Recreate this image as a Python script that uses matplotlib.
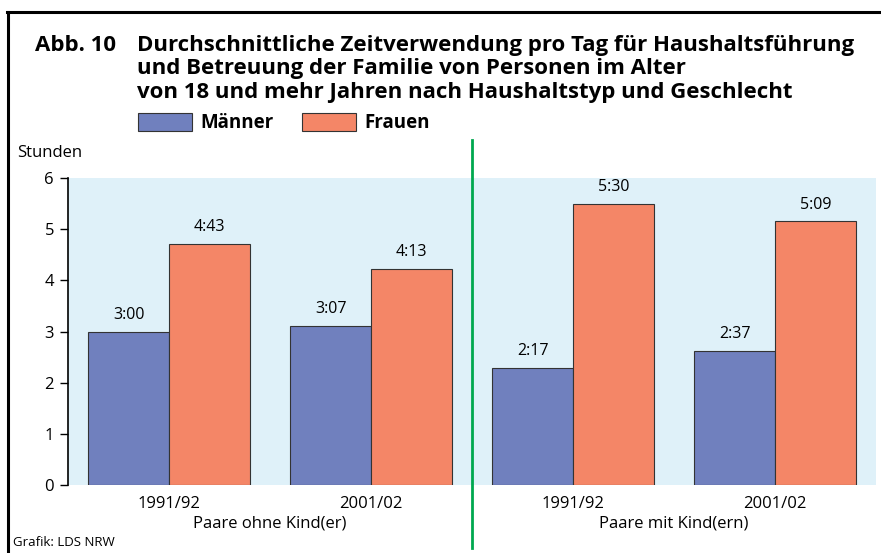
import matplotlib.pyplot as plt
from matplotlib.lines import Line2D
import numpy as np

plt.rcParams['font.family'] = ['Open Sans', 'DejaVu Sans']

# Zeitverwendung in Stunden (h:mm umgerechnet)
zeitraum = ['1991/92', '2001/02', '1991/92', '2001/02']
haushaltstyp = ['Paare ohne Kind(er)', 'Paare mit Kind(ern)']
serien = ['Männer', 'Frauen']
maenner = ['3:00', '3:07', '2:17', '2:37']
frauen = ['4:43', '4:13', '5:30', '5:09']

BLAU = '#7080be'
ORANGE = '#f48667'
HINTERGRUND = '#dff1f9'
GRUEN = '#00a84f'


def stunden(txt):
    h, m = txt.split(':')
    return int(h) + int(m) / 60.0


W, H = 881, 553
fig = plt.figure(figsize=(W / 100, H / 100), dpi=100)

# Achse in Pixelkoordinaten
x0, x1, y0, y1 = 68, 876, 178, 485
ax = fig.add_axes([x0 / W, 1 - y1 / H, (x1 - x0) / W, (y1 - y0) / H])
ax.set_facecolor(HINTERGRUND)

pos = np.array([1.25, 3.75, 6.25, 8.75])
breite = 1.0
werte_m = [stunden(t) for t in maenner]
werte_f = [stunden(t) for t in frauen]

b1 = ax.bar(pos - breite / 2, werte_m, breite, color=BLAU, edgecolor='#333333',
            linewidth=0.8, label=serien[0])
b2 = ax.bar(pos + breite / 2, werte_f, breite, color=ORANGE, edgecolor='#333333',
            linewidth=0.8, label=serien[1])

for rects, labels in ((b1, maenner), (b2, frauen)):
    for r, lab in zip(rects, labels):
        ax.text(r.get_x() + r.get_width() / 2, r.get_height() + 0.33, lab,
                ha='center', va='center', fontsize=11.5)

ax.set_xlim(0, 10)
ax.set_ylim(0, 6)
ax.set_yticks(range(0, 7))
ax.tick_params(axis='y', labelsize=12, length=6, width=1, pad=4)
ax.set_xticks(pos)
ax.set_xticklabels(zeitraum, fontsize=12)
ax.tick_params(axis='x', length=0, pad=8)
for s in ('top', 'right', 'bottom'):
    ax.spines[s].set_visible(False)
ax.spines['left'].set_linewidth(1.2)

# Trennlinie zwischen den Haushaltstypen
ax.plot([5, 5], [-1.23, 6.74], color=GRUEN, lw=2, clip_on=False)

for xc, txt in zip([2.5, 7.5], haushaltstyp):
    ax.text(xc, -0.75, txt, ha='center', va='center', fontsize=12)

fig.text(17 / W, 1 - 153 / H, 'Stunden', ha='left', va='center', fontsize=12)

# Titel
fig.text(35 / W, 1 - 35 / H, 'Abb. 10', ha='left', va='top',
         fontsize=16, fontweight='bold')
fig.text(137 / W, 1 - 35 / H,
         'Durchschnittliche Zeitverwendung pro Tag für Haushaltsführung\n'
         'und Betreuung der Familie von Personen im Alter\n'
         'von 18 und mehr Jahren nach Haushaltstyp und Geschlecht',
         ha='left', va='top', fontsize=16, fontweight='bold', linespacing=1.15)

fig.legend(handles=[b1, b2], labels=serien, loc='center left',
           bbox_to_anchor=(121 / W, 1 - 123 / H), ncol=2, frameon=False,
           prop={'weight': 'bold', 'size': 13.5}, handlelength=2.9,
           handleheight=1.1, handletextpad=0.45, columnspacing=1.5)

fig.text(13 / W, 1 - 543 / H, 'Grafik: LDS NRW', ha='left', va='center',
         fontsize=9.5)

# Rahmen oben und links
fig.add_artist(Line2D([7 / W, 1], [1 - 12 / H, 1 - 12 / H], color='black', lw=2.2))
fig.add_artist(Line2D([8 / W, 8 / W], [1 - 12 / H, 0], color='black', lw=2.2))

fig.savefig('out.png', dpi=100)
